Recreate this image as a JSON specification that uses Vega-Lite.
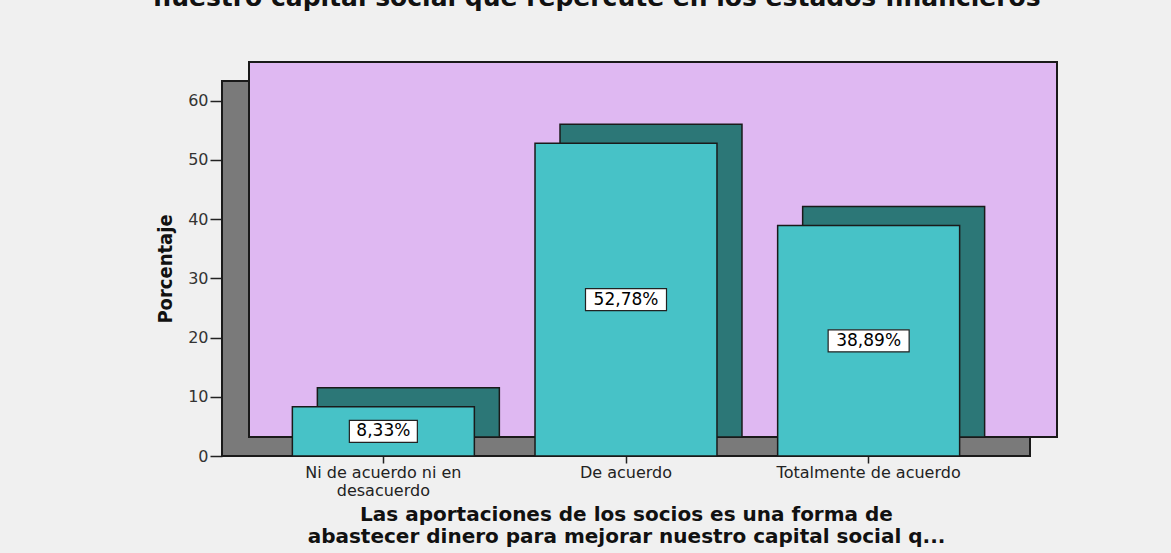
{
  "$schema": "https://vega.github.io/schema/vega-lite/v6.json",
  "width": 808,
  "height": 375,
  "autosize": {"type": "none"},
  "padding": {"left": 222, "top": 81, "right": 141, "bottom": 97},
  "background": "#f0f0f0",
  "config": {"view": {"stroke": null}},
  "title": {
    "text": "nuestro capital social que repercute en los estados financieros",
    "font": "DejaVu Sans",
    "fontSize": 25,
    "fontWeight": "bold",
    "color": "#111111",
    "anchor": "middle",
    "frame": "group",
    "offset": 30,
    "baseline": "alphabetic",
    "dx": -29
  },
  "datasets": {
    "pared": [{"parte": "pared"}],
    "barras": [
      {"categoria": "Ni de acuerdo ni en desacuerdo", "porcentaje": 8.33, "etiqueta": "8,33%"},
      {"categoria": "De acuerdo", "porcentaje": 52.78, "etiqueta": "52,78%"},
      {"categoria": "Totalmente de acuerdo", "porcentaje": 38.89, "etiqueta": "38,89%"}
    ]
  },
  "layer": [
    {
      "data": {"name": "barras"},
      "mark": {"type": "bar", "fill": "#47c2c7", "opacity": 0},
      "encoding": {
        "x": {
          "field": "categoria", "type": "nominal", "sort": null,
          "scale": {"paddingInner": 0.25, "paddingOuter": 0.29},
          "axis": {
            "title": ["Las aportaciones de los socios es una forma de", "abastecer dinero para mejorar  nuestro capital social q..."],
            "titleFont": "DejaVu Sans", "titleFontSize": 20, "titleFontWeight": "bold", "titleColor": "#111111",
            "titlePadding": 6, "titleLineHeight": 22,
            "domain": false, "ticks": true, "tickSize": 7, "tickColor": "#222222", "tickWidth": 1.5,
            "labelAngle": 0, "labelFont": "DejaVu Sans", "labelFontSize": 16, "labelColor": "#222222",
            "labelPadding": 1, "labelLineHeight": 18, "labelLimit": 400,
            "labelExpr": "datum.value == 'Ni de acuerdo ni en desacuerdo' ? ['Ni de acuerdo ni en', 'desacuerdo'] : datum.value"
          }
        },
        "y": {
          "field": "porcentaje", "type": "quantitative",
          "scale": {"domain": [0, 63.3], "nice": false},
          "axis": {
            "title": "Porcentaje", "titleFont": "DejaVu Sans Condensed, Liberation Sans, sans-serif", "titleFontSize": 20, "titleFontWeight": "bold",
            "titleColor": "#111111", "titlePadding": 12,
            "values": [0, 10, 20, 30, 40, 50, 60], "grid": false, "domain": false,
            "tickSize": 12, "tickColor": "#222222", "tickWidth": 1.5,
            "labelFont": "DejaVu Sans", "labelFontSize": 16, "labelColor": "#333333", "labelPadding": 2
          }
        }
      }
    },
    {
      "data": {"name": "pared"},
      "mark": {"type": "rect", "fill": "#7a7a7a", "stroke": "#1a1a1a", "strokeWidth": 2},
      "encoding": {
        "x": {"value": 0},
        "x2": {"value": "width"},
        "y": {"datum": 0, "type": "quantitative"},
        "y2": {"datum": 63.3}
      }
    },
    {
      "data": {"name": "pared"},
      "mark": {"type": "rect", "fill": "#dfb8f2", "stroke": "#1a1a1a", "strokeWidth": 2, "xOffset": 27, "x2Offset": 27, "yOffset": -19, "y2Offset": -19},
      "encoding": {
        "x": {"value": 0},
        "x2": {"value": "width"},
        "y": {"datum": 0, "type": "quantitative"},
        "y2": {"datum": 63.3}
      }
    },
    {
      "data": {"name": "barras"},
      "mark": {"type": "bar", "fill": "#2c7777", "stroke": "#1a1a1a", "strokeWidth": 1.5, "xOffset": 25, "yOffset": -19, "y2Offset": -19},
      "encoding": {
        "x": {"field": "categoria", "type": "nominal", "sort": null},
        "y": {"field": "porcentaje", "type": "quantitative"}
      }
    },
    {
      "data": {"name": "barras"},
      "mark": {"type": "bar", "fill": "#47c2c7", "stroke": "#1a1a1a", "strokeWidth": 1.5},
      "encoding": {
        "x": {"field": "categoria", "type": "nominal", "sort": null},
        "y": {"field": "porcentaje", "type": "quantitative"}
      }
    },
    {
      "data": {"name": "barras"},
      "transform": [{"calculate": "datum.porcentaje / 2", "as": "mitad"}],
      "mark": {"type": "point", "filled": true, "fill": "#ffffff", "stroke": "#222222", "strokeWidth": 1.2, "opacity": 1},
      "encoding": {
        "x": {"field": "categoria", "type": "nominal", "sort": null},
        "y": {"field": "mitad", "type": "quantitative"},
        "shape": {
          "condition": {"test": "length(datum.etiqueta) < 6", "value": "M-1,-0.3235L1,-0.3235L1,0.3235L-1,0.3235Z"},
          "value": "M-1,-0.2716L1,-0.2716L1,0.2716L-1,0.2716Z"
        },
        "size": {
          "condition": {"test": "length(datum.etiqueta) < 6", "value": 4624},
          "value": 6561
        }
      }
    },
    {
      "data": {"name": "barras"},
      "transform": [{"calculate": "datum.porcentaje / 2", "as": "mitad"}],
      "mark": {"type": "text", "font": "DejaVu Sans", "fontSize": 17, "color": "#000000", "align": "center", "baseline": "middle"},
      "encoding": {
        "x": {"field": "categoria", "type": "nominal", "sort": null},
        "y": {"field": "mitad", "type": "quantitative"},
        "text": {"field": "etiqueta"}
      }
    }
  ]
}
